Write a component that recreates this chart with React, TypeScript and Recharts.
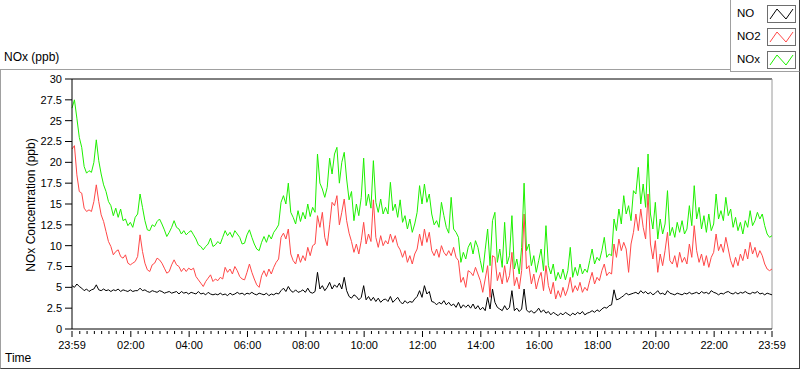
import { LineChart, Line, XAxis, YAxis, ReferenceLine } from 'recharts';

// NOx analyser log, one reading every 5 minutes from 23:59 to 23:59
const noValues = [
  5.2, 5.0, 5.4, 5.1, 4.9, 4.6, 4.8, 4.5, 4.7, 4.8,
  5.3, 4.7, 4.6, 4.8, 4.6, 4.7, 4.5, 4.7, 4.6, 4.8,
  4.5, 4.7, 4.6, 4.5, 4.7, 4.5, 4.6, 4.6, 4.9, 4.6,
  4.7, 4.5, 4.4, 4.6, 4.5, 4.4, 4.6, 4.5, 4.3, 4.4,
  4.5, 4.3, 4.4, 4.5, 4.2, 4.5, 4.3, 4.4, 4.2, 4.4,
  4.3, 4.2, 4.5, 4.2, 4.3, 4.1, 4.4, 4.2, 4.1, 4.2,
  4.1, 4.3, 4.1, 4.2, 4.0, 4.3, 4.1, 4.2, 4.4, 4.2,
  4.3, 4.1, 4.3, 4.2, 4.4, 4.2, 4.1, 4.3, 4.2, 4.1,
  4.3, 4.0, 4.2, 4.1, 4.3, 4.2, 4.6, 4.9, 4.5, 5.1,
  4.6, 4.4, 4.7, 4.4, 4.5, 4.7, 4.4, 4.9, 4.4, 4.3,
  4.5, 6.8, 4.8, 5.2, 4.6, 5.0, 5.6, 4.8, 5.3, 5.0,
  5.5, 4.8, 6.2, 4.6, 3.9, 3.7, 4.1, 3.9, 3.5, 3.8,
  5.2, 3.5, 3.9, 3.4, 3.8, 3.3, 3.7, 3.2, 3.5, 3.6,
  3.3, 3.9, 3.2, 3.5, 3.8, 3.3, 3.0, 3.4, 3.1, 3.3,
  3.2, 3.6, 3.9, 4.6, 3.8, 5.2, 4.2, 4.5, 3.3, 3.2,
  2.9, 3.2, 3.0, 3.4, 2.9, 3.2, 2.8, 3.0, 2.6, 3.2,
  2.5, 2.9, 2.6, 2.9, 2.5, 3.0, 2.4, 2.8, 2.3, 2.6,
  2.2, 3.8, 2.4, 4.8, 3.2, 2.6, 2.4, 2.2, 2.8, 2.3,
  2.6, 4.6, 2.2, 2.5, 2.1, 2.4, 4.8, 2.3, 2.0, 2.2,
  1.9, 2.1, 2.5, 2.0, 2.3, 1.9, 2.1, 1.7, 2.0, 1.8,
  1.6, 1.9, 1.7, 2.0, 1.8, 1.6, 1.9, 1.7, 2.0, 1.8,
  2.1, 1.7, 1.9, 2.0, 2.2, 2.0, 2.3, 2.1, 2.4, 2.6,
  2.5, 2.8, 2.9, 4.7, 3.5, 3.6, 3.8, 4.0, 4.3, 4.1,
  4.2, 4.3, 4.4, 4.2, 4.6, 4.3, 4.5, 4.2, 4.4, 4.1,
  4.3, 4.6, 4.2, 4.3, 4.1, 4.6, 4.3, 4.2, 4.1, 4.3,
  4.2, 4.1, 4.3, 4.2, 4.4, 4.2, 4.3, 4.4, 4.2, 4.5,
  4.3, 4.4, 4.2, 4.6, 4.4, 4.3, 4.1, 4.3, 4.2, 4.4,
  4.5, 4.3, 4.2, 4.4, 4.2, 4.4, 4.3, 4.5, 4.3, 4.2,
  4.4, 4.3, 4.5, 4.2, 4.3, 4.1, 4.3, 4.2, 4.1,
];

const no2Values = [
  21.6, 22.0, 18.5, 16.5, 16.3, 14.5, 14.1, 14.3, 14.1, 15.3,
  17.3, 15.3, 13.7, 12.9, 11.7, 10.5, 9.9, 8.9, 9.3, 9.5,
  8.7, 8.5, 8.9, 7.9, 7.7, 7.9, 8.1, 8.7, 11.3, 9.3,
  7.9, 7.1, 6.9, 7.7, 7.9, 8.5, 8.3, 7.9, 7.3, 6.7,
  6.9, 7.7, 8.3, 7.7, 7.5, 6.9, 7.3, 6.9, 7.3, 7.1,
  7.3, 6.3, 5.9, 5.5, 5.1, 5.7, 6.1, 6.5, 5.7, 6.0,
  5.8, 6.2, 6.0, 7.4, 6.8, 7.2, 6.6, 7.5, 7.0, 6.3,
  6.0, 5.9, 6.8, 7.8, 6.8, 6.0, 5.3, 5.0, 6.4, 7.0,
  6.3, 7.2, 6.6, 7.4, 8.0, 8.4, 11.0, 11.5, 10.8, 12.0,
  9.0, 8.2, 7.8, 9.0, 8.0, 8.8, 8.2, 9.8, 8.8, 10.0,
  10.2, 13.6, 12.2, 14.0, 11.0, 10.0, 12.5, 15.2, 14.8, 16.0,
  12.5, 14.0, 15.6, 13.0, 11.5, 10.5, 9.2, 10.2, 9.0, 10.6,
  12.8, 10.2, 11.4, 10.5, 15.5, 11.0, 9.8, 11.2, 10.0, 10.6,
  10.2, 11.4, 10.4, 11.2, 10.0, 9.5, 8.6, 9.4, 8.0, 8.8,
  7.8, 9.0, 9.6, 11.4, 10.0, 12.0, 10.4, 11.6, 9.4, 8.8,
  9.6, 8.6, 10.0, 9.2, 8.8, 9.4, 8.8, 9.8, 8.6, 8.2,
  5.6, 6.2, 5.0, 7.0, 6.8, 6.4, 7.4, 6.6, 5.8, 4.4,
  6.0, 7.6, 3.8, 8.8, 8.6, 5.8, 6.8, 5.4, 7.6, 5.6,
  6.4, 9.2, 5.2, 6.2, 4.8, 7.0, 13.8, 7.2, 7.6, 5.4,
  6.6, 4.8, 6.0, 6.8, 4.6, 7.6, 5.2, 4.2, 5.6, 3.6,
  4.6, 3.8, 5.0, 4.0, 4.8, 6.2, 4.4, 5.2, 4.6, 5.6,
  4.4, 5.0, 4.6, 5.8, 6.8, 5.4, 6.2, 5.8, 7.0, 7.8,
  6.4, 6.8, 6.6, 10.2, 8.6, 10.8, 9.4, 10.4, 9.6, 6.8,
  10.2, 11.6, 13.8, 11.8, 14.4, 12.2, 10.8, 16.2, 10.2, 8.4,
  10.6, 6.8, 9.0, 7.6, 9.4, 11.6, 8.2, 7.8, 8.8, 7.4,
  9.2, 8.0, 8.6, 7.8, 10.2, 8.6, 12.4, 9.4, 8.0, 9.0,
  7.6, 8.8, 7.4, 8.6, 9.2, 11.4, 9.4, 10.2, 9.2, 11.0,
  9.6, 8.2, 7.4, 8.6, 7.6, 9.0, 8.2, 9.6, 8.4, 10.4,
  9.0, 9.8, 8.6, 9.4, 8.8, 7.8, 7.2, 7.0, 7.2,
];

const noxValues = [
  26.5, 27.5, 25.3, 23.0, 21.8, 19.5, 18.7, 19.0, 18.8, 20.0,
  22.7, 20.2, 18.6, 17.3, 16.5, 15.3, 14.8, 13.6, 14.5, 13.4,
  14.4, 13.0, 13.2, 12.4, 12.8, 12.2, 13.4, 13.8, 16.2, 14.6,
  13.0, 11.9, 11.8, 12.5, 12.3, 12.9, 13.2, 12.6, 11.9, 11.1,
  11.6, 12.2, 13.0, 12.2, 12.0, 11.4, 11.8, 11.3, 11.6, 11.8,
  11.3, 10.8, 10.1, 9.9, 9.5, 9.9, 10.2, 10.9, 9.9, 10.1,
  10.5, 10.2, 11.0, 11.8, 11.2, 11.6, 11.0, 11.8, 11.4, 11.0,
  10.2, 10.3, 11.3, 11.9, 11.0, 10.2, 9.6, 9.4, 10.4, 11.1,
  10.4, 11.3, 10.8, 11.6, 12.0, 12.5, 15.2, 16.0, 15.0, 17.5,
  14.0, 13.4, 12.6, 14.2, 12.9, 14.0, 13.2, 15.0, 13.5, 14.6,
  14.0, 21.0, 17.5, 16.8, 15.8, 17.0, 20.5, 18.6, 21.0, 21.8,
  17.5, 20.0, 21.2, 18.0, 15.5, 16.5, 13.0, 15.0, 13.6, 15.8,
  20.5, 14.8, 16.2, 14.5, 20.2, 15.2, 14.0, 15.6, 13.8, 14.6,
  13.8, 17.6, 14.2, 15.0, 13.4, 15.5, 12.8, 13.6, 12.0, 13.2,
  11.6, 12.6, 14.0, 17.2, 15.0, 17.4, 15.2, 16.2, 13.8, 12.5,
  13.0, 12.2, 15.2, 13.6, 12.2, 11.5, 15.8, 12.0, 11.6, 11.0,
  8.0, 9.2, 8.4, 9.8, 10.4, 9.0, 10.6, 9.8, 8.2, 6.8,
  9.5, 12.0, 7.6, 13.0, 14.0, 8.0, 9.6, 7.4, 12.8, 7.8,
  8.8, 13.6, 7.2, 8.4, 6.6, 9.8, 17.5, 9.4, 10.2, 7.6,
  8.8, 6.8, 8.2, 9.6, 7.0, 12.4, 7.6, 6.6, 7.8, 5.8,
  6.8, 6.0, 7.2, 5.9, 7.0, 9.8, 6.2, 7.4, 6.4, 7.8,
  6.6, 7.2, 6.8, 8.2, 9.6, 7.8, 8.6, 8.2, 9.4, 11.0,
  8.6, 9.0, 8.8, 13.2, 11.8, 14.4, 12.6, 16.0, 13.8, 14.8,
  13.0, 16.6, 16.2, 19.4, 15.0, 17.4, 14.6, 21.0, 13.8, 12.0,
  15.2, 10.8, 13.2, 11.4, 12.6, 16.6, 11.2, 12.2, 11.0, 12.8,
  11.6, 13.0, 11.4, 12.0, 14.8, 12.4, 17.2, 13.2, 14.6, 12.0,
  13.6, 11.6, 13.8, 11.8, 12.6, 16.2, 13.2, 14.2, 13.0, 15.8,
  13.6, 14.4, 12.2, 13.4, 11.8, 12.8, 11.4, 13.0, 12.2, 14.2,
  12.4, 13.0, 14.0, 13.2, 13.8, 12.4, 11.4, 11.0, 11.2,
];

// minutes after 23:59 of the previous day
const xTickValues = [0, 121, 241, 361, 481, 601, 721, 841, 961, 1081, 1201, 1321, 1440];
const xTickLabels = ['23:59', '02:00', '04:00', '06:00', '08:00', '10:00', '12:00', '14:00', '16:00', '18:00', '20:00', '22:00', '23:59'];
const yTickValues = [0, 2.5, 5, 7.5, 10, 12.5, 15, 17.5, 20, 22.5, 25, 27.5, 30];

const seriesNames = ['NO', 'NO2', 'NOx'];
const seriesColors = ['#000000', '#ff4747', '#1ef000'];

const STEP_MIN = 5;
const FONT = '"Liberation Sans", Arial, sans-serif';

const data = noxValues.map((v, i) => ({
  t: i * STEP_MIN,
  no: noValues[i],
  no2: no2Values[i],
  nox: v,
}));

// quarter-hour minor ticks on the time axis
const minorTicks: number[] = [];
for (let m = 16; m < 1440; m += 15) {
  if (!xTickValues.includes(m)) minorTicks.push(m);
}
const allXTicks = [...xTickValues, ...minorTicks].sort((a, b) => a - b);

function TimeTick(props: any) {
  const { x, y, payload } = props;
  const idx = xTickValues.indexOf(payload.value);
  const major = idx >= 0;
  return (
    <g>
      <line x1={x} x2={x} y1={y + 2} y2={y + (major ? 8 : 5)} stroke="#000" />
      {major && (
        <text x={x} y={y + 20} textAnchor="middle" fill="#000" fontSize={11} fontFamily={FONT}>
          {xTickLabels[idx]}
        </text>
      )}
    </g>
  );
}

function Swatch({ color }: { color: string }) {
  return (
    <svg width={29} height={18} style={{ display: 'block' }}>
      <rect x={0.5} y={0.5} width={28} height={17} fill="#fff" stroke="#6e6e6e" />
      <polyline points="3,14 10,4 19,14 26,4" fill="none" stroke={color} strokeWidth={1} />
    </svg>
  );
}

export default function App() {
  return (
    <div style={{ position: 'absolute', left: 0, top: 0, width: 800, height: 369, background: '#fff', fontFamily: FONT }}>
      {/* outer panel frame */}
      <div
        style={{
          position: 'absolute', left: 0, top: 69, width: 800, height: 300, boxSizing: 'border-box',
          borderTop: '1px solid #a0a0a0', borderLeft: '1px solid #a0a0a0',
          borderRight: '1px solid #404040', borderBottom: '1px solid #404040',
        }}
      />
      <div style={{ position: 'absolute', left: 4, top: 50, fontSize: 12, color: '#000' }}>NOx (ppb)</div>

      <div style={{ position: 'absolute', left: 0, top: 0 }}>
        <LineChart width={800} height={369} data={data} margin={{ top: 79, right: 28, bottom: 0, left: 0 }}>
          <XAxis
            dataKey="t"
            type="number"
            domain={[0, 1440]}
            ticks={allXTicks}
            interval={0}
            tick={(p: any) => <TimeTick {...p} />}
            tickLine={false}
            tickSize={0}
            tickMargin={0}
            height={40}
            axisLine={{ stroke: '#000' }}
          />
          <YAxis
            type="number"
            domain={[0, 30]}
            ticks={yTickValues}
            interval={0}
            width={72}
            tickSize={7}
            tickMargin={3}
            axisLine={{ stroke: '#000' }}
            tickLine={{ stroke: '#000' }}
            tick={{ fill: '#000', fontSize: 11, fontFamily: FONT }}
          />
          <ReferenceLine y={30} stroke="#000" />
          <ReferenceLine x={1440} stroke="#9a9a9a" />
          <Line type="linear" dataKey="no" stroke={seriesColors[0]} strokeWidth={1} dot={false} isAnimationActive={false} />
          <Line type="linear" dataKey="no2" stroke={seriesColors[1]} strokeWidth={1} dot={false} isAnimationActive={false} />
          <Line type="linear" dataKey="nox" stroke={seriesColors[2]} strokeWidth={1} dot={false} isAnimationActive={false} />
        </LineChart>
      </div>

      {/* y axis title */}
      <div
        style={{
          position: 'absolute', left: 31, top: 205, fontSize: 12, color: '#000', whiteSpace: 'nowrap',
          transform: 'translate(-50%, -50%) rotate(-90deg)',
        }}
      >
        NOx Concentration (ppb)
      </div>
      <div style={{ position: 'absolute', left: 5, top: 351, fontSize: 12, color: '#000' }}>Time</div>

      {/* legend */}
      <div
        style={{
          position: 'absolute', left: 730, top: 0, width: 70, height: 72, boxSizing: 'border-box', background: '#fff',
          borderLeft: '1px solid #a0a0a0', borderBottom: '1px solid #a0a0a0', borderRight: '1px solid #404040',
        }}
      >
        {seriesNames.map((name, i) => (
          <div key={name} style={{ position: 'absolute', left: 0, top: 5 + i * 23, width: 68, height: 18 }}>
            <span style={{ position: 'absolute', left: 6, top: 2, fontSize: 11.5, color: '#000' }}>{name}</span>
            <div style={{ position: 'absolute', left: 36, top: 0 }}>
              <Swatch color={seriesColors[i]} />
            </div>
          </div>
        ))}
      </div>
    </div>
  );
}
